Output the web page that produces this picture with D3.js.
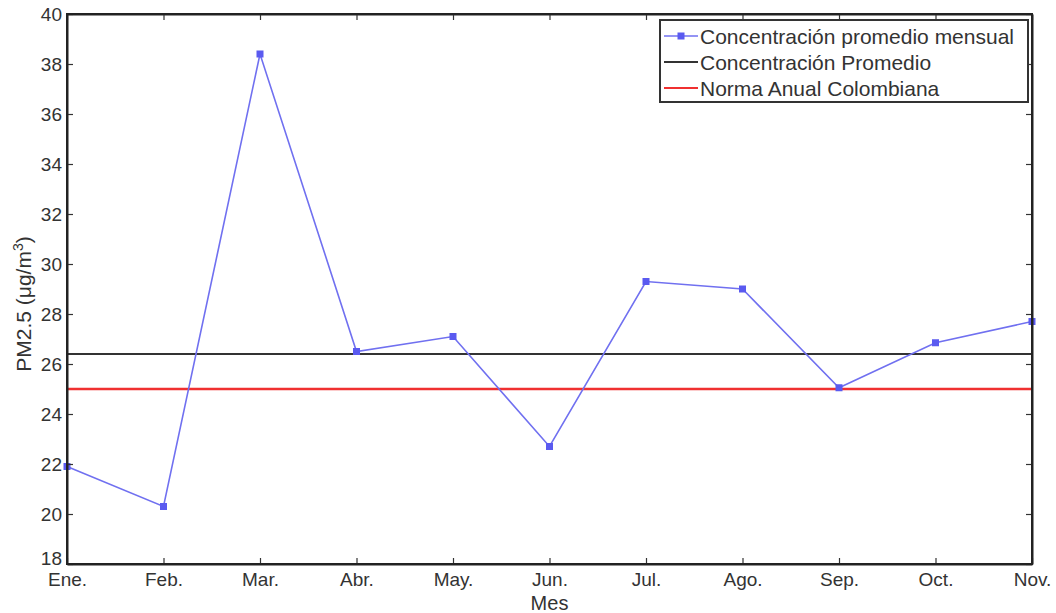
<!DOCTYPE html>
<html>
<head>
<meta charset="utf-8">
<script src="https://cdn.jsdelivr.net/npm/d3@7"></script>
<style>
  body { margin: 0; background: #fff; }
  svg { font-family: "Liberation Sans", Arial, sans-serif; }
  .tick text { fill: #333; font-size: 19px; }
</style>
</head>
<body>
<div id="chart"></div>
<script>
"use strict";

// monthly PM2.5 values
var months = ["Ene.", "Feb.", "Mar.", "Abr.", "May.", "Jun.", "Jul.", "Ago.", "Sep.", "Oct.", "Nov."];
var monthly = [21.9, 20.3, 38.4, 26.5, 27.1, 22.7, 29.3, 29.0, 25.05, 26.85, 27.7];
var meanValue = 26.4;
var normValue = 25;
var yTicks = [18, 20, 22, 24, 26, 28, 30, 32, 34, 36, 38, 40];
var legendLabels = ["Concentración promedio mensual", "Concentración Promedio", "Norma Anual Colombiana"];

var W = 1056, H = 613;
var margin = { top: 14, right: 24, bottom: 49, left: 67 };
var width = W - margin.left - margin.right;
var height = H - margin.top - margin.bottom;

var svg = d3.select("#chart").append("svg")
  .attr("width", W)
  .attr("height", H);

var g = svg.append("g")
  .attr("transform", "translate(" + margin.left + "," + margin.top + ")");

var x = d3.scalePoint().domain(months).range([0, width]);
var y = d3.scaleLinear().domain([18, 40]).range([height, 0]);

// reference lines
g.append("line")
  .attr("x1", 0).attr("x2", width)
  .attr("y1", y(meanValue)).attr("y2", y(meanValue))
  .attr("stroke", "#333").attr("stroke-width", 2.2);

g.append("line")
  .attr("x1", 0).attr("x2", width)
  .attr("y1", y(normValue)).attr("y2", y(normValue))
  .attr("stroke", "#f03030").attr("stroke-width", 2.4);

// monthly series
var line = d3.line()
  .x(function (d, i) { return x(months[i]); })
  .y(function (d) { return y(d); });

g.append("path")
  .datum(monthly)
  .attr("fill", "none")
  .attr("stroke", "#7070f0")
  .attr("stroke-width", 1.6)
  .attr("d", line);

g.selectAll(".pt")
  .data(monthly)
  .enter().append("rect")
  .attr("class", "pt")
  .attr("x", function (d, i) { return x(months[i]) - 3.5; })
  .attr("y", function (d) { return y(d) - 3.5; })
  .attr("width", 7).attr("height", 7)
  .attr("fill", "#5a5af0");

// axes (ticks inward, mirrored on top/right)
var bottomAxis = d3.axisBottom(x).tickSizeInner(-6).tickSizeOuter(0).tickPadding(9);
var leftAxis = d3.axisLeft(y).tickValues(yTicks).tickSizeInner(-6).tickSizeOuter(0).tickPadding(5);

var gx = g.append("g").attr("transform", "translate(0," + height + ")").call(bottomAxis);
var gy = g.append("g").call(leftAxis);

g.append("g").call(d3.axisTop(x).tickSizeInner(-6).tickSizeOuter(0).tickFormat(""));
g.append("g").attr("transform", "translate(" + width + ",0)")
  .call(d3.axisRight(y).tickValues(yTicks).tickSizeInner(-6).tickSizeOuter(0).tickFormat(""));

g.selectAll(".domain").attr("stroke", "#222").attr("stroke-width", 2);
g.selectAll(".tick line").attr("stroke", "#333").attr("stroke-width", 1.2);
gy.selectAll(".tick text").attr("dy", "0.35em");
// lift the lowest label a little so it clears "Ene."
gy.selectAll(".tick text").filter(function (d) { return d === 18; }).attr("dy", "0.05em");

// box frame
g.append("rect")
  .attr("width", width).attr("height", height)
  .attr("fill", "none").attr("stroke", "#222").attr("stroke-width", 2);

// axis titles
svg.append("text")
  .attr("x", margin.left + width / 2)
  .attr("y", 610)
  .attr("text-anchor", "middle")
  .attr("font-size", 20)
  .attr("fill", "#333")
  .text("Mes");

var yl = svg.append("text")
  .attr("transform", "translate(31," + (margin.top + height / 2 + 15) + ") rotate(-90)")
  .attr("text-anchor", "middle")
  .attr("font-size", 21)
  .attr("fill", "#333");
yl.append("tspan").text("PM2.5 (μg/m");
yl.append("tspan").attr("dy", -8).attr("font-size", 14).text("3");
yl.append("tspan").attr("dy", 8).text(")");

// legend
var lg = svg.append("g").attr("transform", "translate(660,20)");
lg.append("rect")
  .attr("width", 368).attr("height", 82)
  .attr("fill", "#fff").attr("stroke", "#333").attr("stroke-width", 2);

var legendColors = ["#7070f0", "#333", "#f03030"];
legendLabels.forEach(function (label, i) {
  var ly = 16 + i * 26;
  lg.append("line")
    .attr("x1", 4).attr("x2", 38)
    .attr("y1", ly).attr("y2", ly)
    .attr("stroke", legendColors[i])
    .attr("stroke-width", i === 0 ? 1.6 : 2.2);
  if (i === 0) {
    lg.append("rect")
      .attr("x", 17.5).attr("y", ly - 3.5)
      .attr("width", 7).attr("height", 7)
      .attr("fill", "#5a5af0");
  }
  lg.append("text")
    .attr("x", 40).attr("y", ly + 7.5)
    .attr("font-size", 21)
    .attr("fill", "#333")
    .text(label);
});
</script>
</body>
</html>
